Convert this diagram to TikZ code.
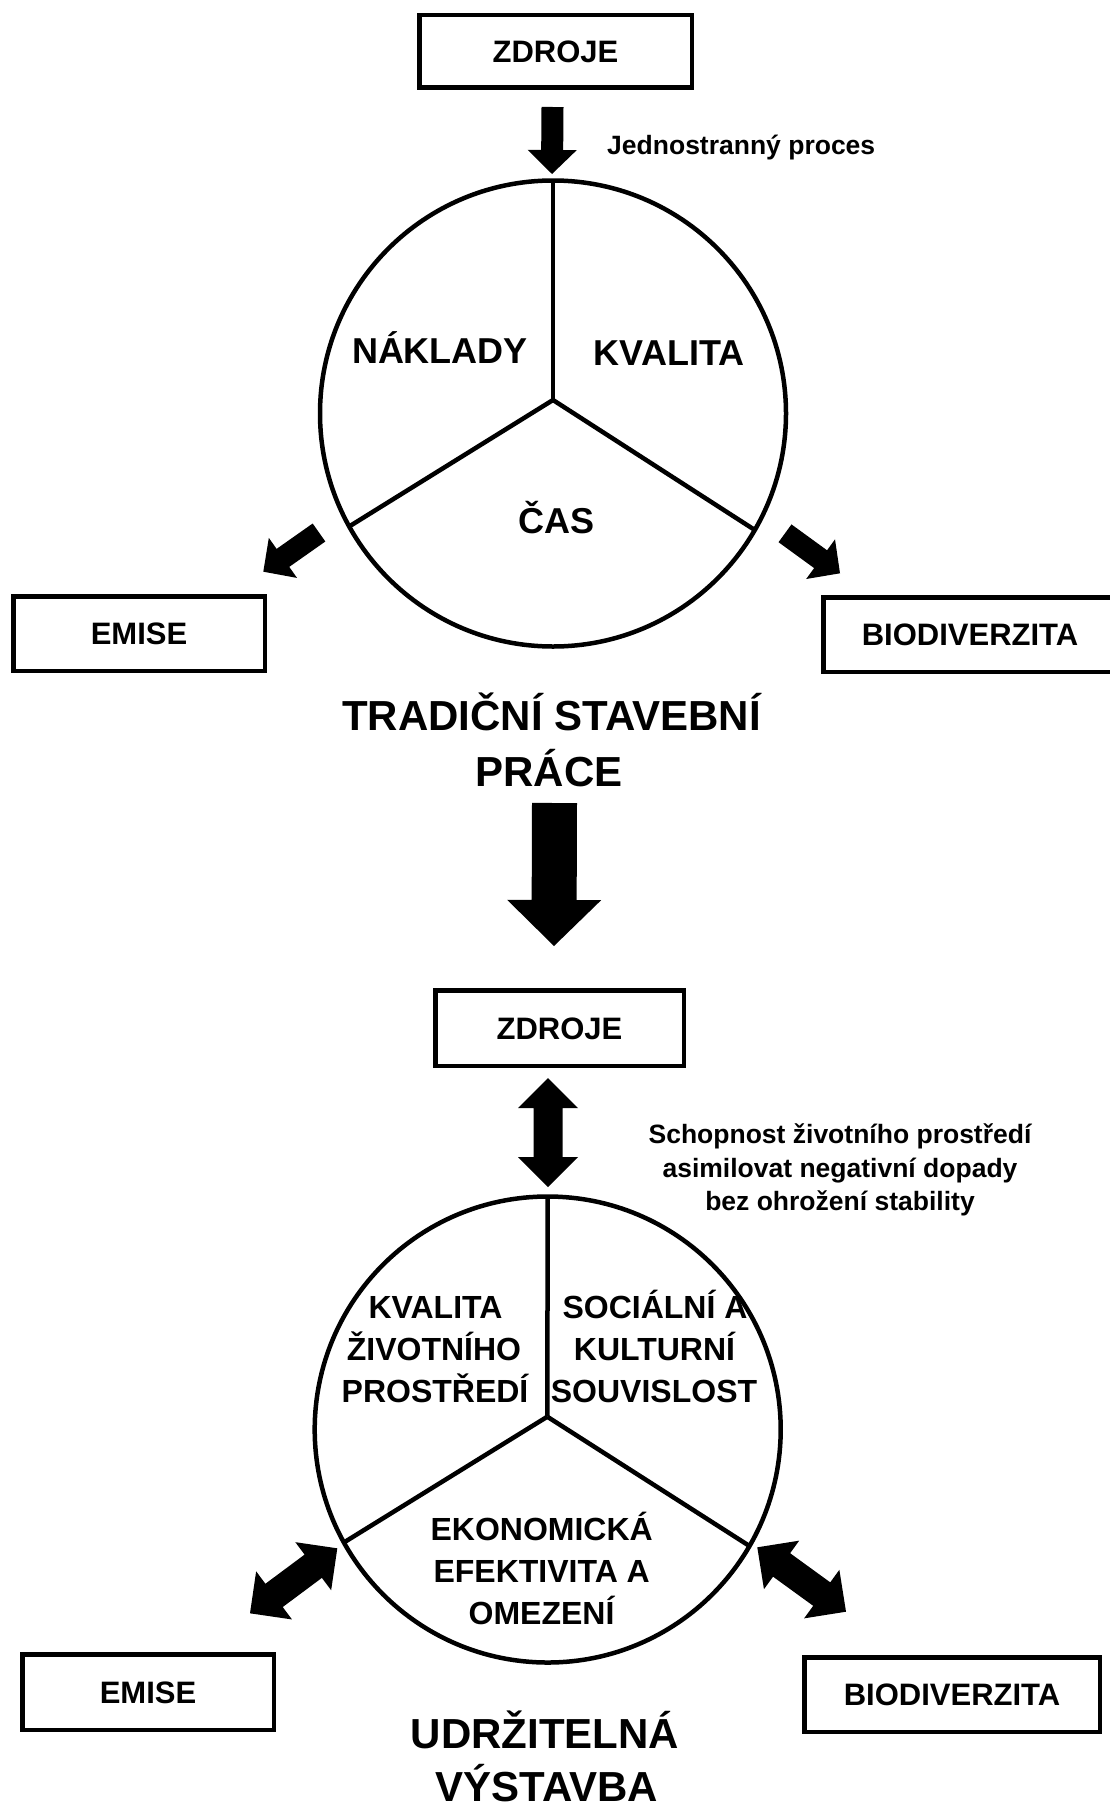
\documentclass[tikz,border=0pt]{standalone}
\usepackage{fontspec}
\setmainfont{Liberation Sans}
\usetikzlibrary{calc}

% font sizes for the different kinds of text
\newcommand\fsCirc{\bfseries\fontsize{36}{43}\selectfont}
\newcommand\fsInner{\bfseries\fontsize{32}{42}\selectfont}
\newcommand\fsBox{\bfseries\fontsize{31}{37}\selectfont}
\newcommand\fsTitle{\bfseries\fontsize{42}{56}\selectfont}
\newcommand\fsNote{\bfseries\fontsize{26.5}{33.5}\selectfont}

% block arrow: #1 tail, #2 tip, #3 half shaft width, #4 half head width, #5 head length
\newcommand\fatarrow[5]{%
  \coordinate (fa-h) at ($(#2)!#5!(#1)$);
  \fill ($(#1)!#3!90:(#2)$) -- ($(fa-h)!#3!-90:(#1)$) -- ($(fa-h)!#4!-90:(#1)$)
    -- (#2) -- ($(fa-h)!#4!90:(#1)$) -- ($(fa-h)!#3!90:(#1)$)
    -- ($(#1)!#3!-90:(#2)$) -- cycle;}

% double-headed block arrow: #1 and #2 tips, #3 half shaft, #4 half head, #5 head length
\newcommand\fatdoublearrow[5]{%
  \coordinate (fa-a) at ($(#1)!#5!(#2)$);
  \coordinate (fa-b) at ($(#2)!#5!(#1)$);
  \fill (#1) -- ($(fa-a)!#4!90:(#2)$) -- ($(fa-a)!#3!90:(#2)$)
    -- ($(fa-b)!#3!-90:(#1)$) -- ($(fa-b)!#4!-90:(#1)$) -- (#2)
    -- ($(fa-b)!#4!90:(#1)$) -- ($(fa-b)!#3!90:(#1)$)
    -- ($(fa-a)!#3!-90:(#2)$) -- ($(fa-a)!#4!-90:(#2)$) -- cycle;}

\tikzset{
  box/.style={draw, rectangle, line width=4.5pt, inner sep=0pt, outer sep=0pt,
    font=\fsBox, text height=22.2pt, text depth=0pt},
  ring/.style={circle, draw, line width=4.5pt, minimum size=466pt,
    inner sep=0pt, outer sep=0pt},
  spoke/.style={line width=4.5pt},
  lbl/.style={inner sep=0pt, anchor=base},
}

\begin{document}
\begin{tikzpicture}[x=1pt, y=-1pt]
\useasboundingbox (0,0) rectangle (1110,1809);
\clip (0,0) rectangle (1110,1809);
\fill[white] (0,0) rectangle (1110,1809);

% ---------- traditional construction ----------
\node[box, minimum width=272.5pt, minimum height=72.5pt] (zdroje1) at (555.5,51.5) {ZDROJE};
\node[box, minimum width=251.5pt, minimum height=74.5pt] (emise1) at (139,633.5) {EMISE};
\node[box, minimum width=293.5pt, minimum height=74.5pt] (bio1) at (970,634.5) {BIODIVERZITA};

\node[ring] (c1) at (553,413.5) {};
\coordinate (j1) at (553,400);
\draw[spoke] (j1) -- (c1.90);
\draw[spoke] (j1) -- (c1.209.6);
\draw[spoke] (j1) -- (c1.330.3);

\node[lbl, font=\fsCirc] (naklady) at (440,363.4) {NÁKLADY};
\node[lbl, font=\fsCirc] (kvalita1) at (669,365) {KVALITA};
\node[lbl, font=\fsCirc] (cas) at (556.5,533.5) {ČAS};

\node[lbl, font=\fsNote, anchor=base west] (jedno) at (607,154.5) {Jednostranný proces};

\coordinate (a1t) at (552.5,107);
\coordinate (a1h) at (552,174);
\fatarrow{a1t}{a1h}{11pt}{24.5pt}{24pt}
\coordinate (a2t) at (319,532.5);
\coordinate (a2h) at (263.3,571.7);
\fatarrow{a2t}{a2h}{11pt}{24.5pt}{24pt}
\coordinate (a3t) at (785,533.3);
\coordinate (a3h) at (840,573.3);
\fatarrow{a3t}{a3h}{11pt}{24.5pt}{24pt}

\node[lbl, font=\fsTitle] (title1a) at (551.5,730) {TRADIČNÍ STAVEBNÍ};
\node[lbl, font=\fsTitle] (title1b) at (549,786.5) {PRÁCE};

% transition arrow
\coordinate (bigt) at (554.5,803);
\coordinate (bigh) at (554,946);
\fatarrow{bigt}{bigh}{22.5pt}{47pt}{46pt}

% ---------- sustainable construction ----------
\node[box, minimum width=248.5pt, minimum height=75.5pt] (zdroje2) at (559.5,1028) {ZDROJE};
\node[box, minimum width=251.5pt, minimum height=75.5pt] (emise2) at (148,1692) {EMISE};
\node[box, minimum width=295.5pt, minimum height=74.5pt] (bio2) at (952,1694.5) {BIODIVERZITA};

\node[ring] (c2) at (547.7,1429.5) {};
\coordinate (j2) at (547.3,1416.7);
\draw[spoke] (j2) -- (c2.90);
\draw[spoke] (j2) -- (c2.209.4);
\draw[spoke] (j2) -- (c2.330.6);

\node[lbl, font=\fsInner] (kv2a) at (435.5,1318.3) {KVALITA};
\node[lbl, font=\fsInner] (kv2b) at (434,1360.5) {ŽIVOTNÍHO};
\node[lbl, font=\fsInner] (kv2c) at (435,1402.5) {PROSTŘEDÍ};
\node[lbl, font=\fsInner] (soc2a) at (655,1318.3) {SOCIÁLNÍ A};
\node[lbl, font=\fsInner] (soc2b) at (654.5,1360.5) {KULTURNÍ};
\node[lbl, font=\fsInner] (soc2c) at (654,1402.5) {SOUVISLOST};
\node[lbl, font=\fsInner] (eko2a) at (541.7,1540) {EKONOMICKÁ};
\node[lbl, font=\fsInner] (eko2b) at (541.7,1582.5) {EFEKTIVITA A};
\node[lbl, font=\fsInner] (eko2c) at (541.5,1624.5) {OMEZENÍ};

\node[lbl, font=\fsNote] (note2a) at (840,1143.5) {Schopnost životního prostředí};
\node[lbl, font=\fsNote] (note2b) at (840,1177.5) {asimilovat negativní dopady};
\node[lbl, font=\fsNote] (note2c) at (840,1210.5) {bez ohrožení stability};

\coordinate (d1a) at (548,1078);
\coordinate (d1b) at (548,1187);
\fatdoublearrow{d1a}{d1b}{14.5pt}{30pt}{30pt}
\coordinate (d2a) at (337.3,1548.3);
\coordinate (d2b) at (250,1613.3);
\fatdoublearrow{d2a}{d2b}{14.5pt}{30pt}{30pt}
\coordinate (d3a) at (757.3,1547.3);
\coordinate (d3b) at (846,1611.7);
\fatdoublearrow{d3a}{d3b}{14.5pt}{30pt}{30pt}

\node[lbl, font=\fsTitle] (title2a) at (545,1748) {UDRŽITELNÁ};
\node[lbl, font=\fsTitle] (title2b) at (547,1801) {VÝSTAVBA};
\end{tikzpicture}
\end{document}
